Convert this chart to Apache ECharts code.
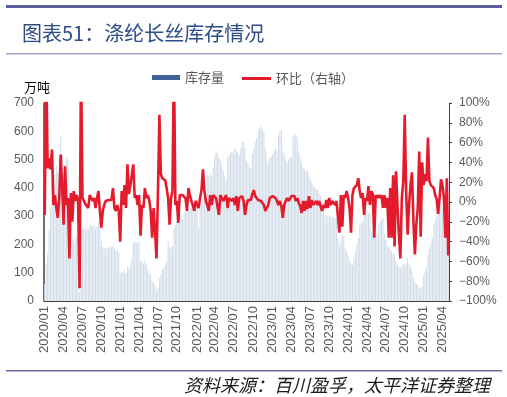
<!DOCTYPE html>
<html><head><meta charset="utf-8">
<script src="https://cdn.jsdelivr.net/npm/echarts@6/dist/echarts.min.js"></script>
<style>html,body{margin:0;padding:0;background:#fff}#c{width:507px;height:397px}</style>
</head><body><div id="c"></div>
<script>
// weekly observations starting 2020/01/03
const firstWeek = [2020, 1, 3];
const weekCount = 279;
const quarterLabels = ['2020/01','2020/04','2020/07','2020/10','2021/01','2021/04','2021/07','2021/10',
  '2022/01','2022/04','2022/07','2022/10','2023/01','2023/04','2023/07','2023/10',
  '2024/01','2024/04','2024/07','2024/10','2025/01','2025/04'];

// 库存量 (万吨)
const inventory = [
  60,130,170,250,330,420,380,446,480,450,
  500,580,520,450,480,505,500,240,220,215,
  225,210,230,225,30,252,255,262,248,258,
  252,265,270,262,268,255,262,280,285,210,
  190,185,188,186,190,188,192,195,185,175,
  180,170,95,105,100,110,98,120,115,125,
  150,205,210,208,202,212,140,138,132,145,
  130,110,100,92,70,65,55,35,45,80,
  95,110,120,127,140,212,190,185,195,258,
  270,285,270,300,304,290,310,315,325,320,
  330,340,335,350,345,360,258,330,345,375,
  365,380,446,440,450,440,470,510,530,520,
  505,500,480,460,440,424,505,515,525,530,
  520,540,530,525,515,540,565,560,540,495,
  485,475,470,520,540,560,576,600,610,618,
  605,595,540,500,490,505,510,520,530,540,
  530,587,600,605,530,520,500,490,500,510,
  505,580,585,590,580,530,510,490,470,465,
  460,460,445,430,420,405,400,395,392,380,
  370,355,345,304,300,298,302,296,300,295,
  293,290,223,198,215,238,230,187,175,163,
  141,130,127,150,177,200,223,269,275,283,
  300,318,315,311,313,247,240,235,233,240,
  269,280,288,293,233,215,198,190,185,175,
  168,165,140,127,120,117,122,130,128,132,
  150,130,120,110,81,70,62,57,46,42,
  50,92,105,117,163,185,205,223,269,285,
  304,329,329,340,325,300,280,290,270
];

// 环比 (%), right axis; values above 100 run off the top of the plot
const momPct = [
  -13,150,34,44,33,53,-3,7,-6,-16,
  4,48,16,-23,36,-3,4,-57,9,-20,
  11,1,7,1,-87,150,4,2,-2,-3,
  -6,7,9,1,4,-6,4,11,-9,-26,
  -9,-3,1,1,2,2,2,14,-6,-9,
  -3,-9,-40,11,-3,17,-6,38,8,17,
  16,38,4,7,-3,7,-34,-3,-6,14,
  4,7,2,-9,-36,-6,-30,-57,10,88,
  28,24,26,22,14,4,-23,4,11,150,
  -3,1,-21,7,9,7,9,4,-9,14,
  7,1,-3,-9,1,-3,-6,4,12,33,
  11,1,-3,-9,7,-3,7,9,4,4,
  -13,7,4,1,2,7,-6,4,6,1,
  4,-3,6,-9,4,2,6,1,-13,-3,
  2,4,2,8,12,6,4,2,2,1,
  -1,-3,-9,-11,-3,4,2,6,5,4,
  1,-3,1,-4,-16,-3,1,4,1,2,
  6,4,6,1,4,-1,-4,-11,1,-9,
  1,-7,6,-6,2,-3,-4,1,-3,1,
  -4,-9,-3,-6,2,-6,4,-3,1,-1,
  -3,1,2,-31,7,-25,7,4,11,4,
  -6,-31,7,14,12,17,24,11,4,9,
  -13,4,1,16,-3,11,8,-36,7,4,
  7,4,7,-6,7,-6,4,-36,14,-36,
  27,-45,31,-4,-33,-57,4,20,88,10,
  -33,-3,17,30,-20,-53,-22,-6,51,-35,
  40,17,28,21,65,21,17,16,14,7,
  3,-12,4,23,17,4,-36,24,-54
];

const pad = n => (n < 10 ? '0' : '') + n;
const categories = [];
for (let i = 0; i < weekCount; i++) {
  const d = new Date(Date.UTC(firstWeek[0], firstWeek[1] - 1, firstWeek[2] + 7 * i));
  categories.push(d.getUTCFullYear() + '/' + pad(d.getUTCMonth() + 1) + '/' + pad(d.getUTCDate()));
}
const shownIdx = new Set();
quarterLabels.forEach(q => {
  const k = categories.findIndex(c => c.slice(0, 7) === q);
  if (k >= 0) shownIdx.add(k);
});
const showFn = (idx) => shownIdx.has(idx);

const FONT_NUM = 'Liberation Sans, Arial, sans-serif';
const FONT_CJK = 'Noto Sans CJK SC, sans-serif';
const AXIS_C = '#404040';
const LABEL_C = '#595959';
const RED = '#e41b2c';

const chart = echarts.init(document.getElementById('c'), null, {renderer: 'canvas'});
chart.setOption({
  animation: false,
  backgroundColor: '#ffffff',
  title: [
    {text: '图表51：涤纶长丝库存情况', left: 17, top: 18,
     textStyle: {fontSize: 20, color: '#2d4c89', fontWeight: 'normal', fontFamily: FONT_CJK}},
    {text: '资料来源：百川盈孚，太平洋证券整理', right: 12, top: 371,
     textStyle: {fontSize: 18, fontStyle: 'italic', color: '#1a1a1a', fontWeight: 'normal', fontFamily: FONT_CJK}},
    {text: '万吨', left: 19, top: 76,
     textStyle: {fontSize: 13, color: '#000', fontWeight: 'normal', fontFamily: FONT_CJK}}
  ],
  graphic: [
    {type: 'rect', shape: {x: 6, y: 5, width: 496, height: 3}, style: {fill: '#5b5f9a'}},
    {type: 'rect', shape: {x: 6, y: 53, width: 496, height: 1.5}, style: {fill: '#a3a7cb'}},
    {type: 'rect', shape: {x: 6, y: 370, width: 496, height: 1.5}, style: {fill: '#6468a0'}}
  ],
  legend: [
    {data: [{name: '库存量', icon: 'rect', itemStyle: {color: '#3e6298'}}], left: 152, top: 71, padding: 0,
     itemWidth: 28, itemHeight: 5, textStyle: {color: LABEL_C, fontSize: 13, fontFamily: FONT_CJK}},
    {data: [{name: '环比（右轴）', icon: 'rect', itemStyle: {color: RED}}], left: 242, top: 72, padding: 0,
     itemWidth: 29, itemHeight: 3, textStyle: {color: LABEL_C, fontSize: 13, fontFamily: FONT_CJK}}
  ],
  grid: {left: 44, right: 58, top: 103, bottom: 96, containLabel: false},
  xAxis: {
    type: 'category', data: categories, boundaryGap: true,
    axisLine: {lineStyle: {color: AXIS_C, width: 1}},
    axisTick: {interval: showFn, length: 4, lineStyle: {color: AXIS_C}},
    axisLabel: {interval: showFn, rotate: 90, formatter: v => v.slice(0, 7),
      color: LABEL_C, fontSize: 13, fontFamily: FONT_NUM, margin: 5}
  },
  yAxis: [
    {type: 'value', min: 0, max: 700, interval: 100,
     axisLine: {show: true, lineStyle: {color: AXIS_C, width: 1.5}},
     axisTick: {show: false}, splitLine: {show: false},
     axisLabel: {color: LABEL_C, fontSize: 12, fontFamily: FONT_NUM, margin: 10}},
    {type: 'value', min: -100, max: 100, interval: 20, position: 'right',
     axisLine: {show: true, lineStyle: {color: AXIS_C, width: 1}},
     axisTick: {show: true, length: 3, lineStyle: {color: AXIS_C}}, splitLine: {show: false},
     axisLabel: {color: LABEL_C, fontSize: 12, fontFamily: FONT_NUM, margin: 10,
       formatter: v => (v < 0 ? '\u2212' + Math.abs(v) : v) + '%'}}
  ],
  series: [
    {name: '库存量', type: 'bar', yAxisIndex: 0, data: inventory, barCategoryGap: '40%',
     itemStyle: {color: '#d0dbe8'}, z: 1},
    {name: '环比（右轴）', type: 'line', yAxisIndex: 1, data: momPct, symbol: 'none', clip: true,
     lineStyle: {color: RED, width: 2.6}, itemStyle: {color: RED}, z: 3}
  ]
});
</script></body></html>
